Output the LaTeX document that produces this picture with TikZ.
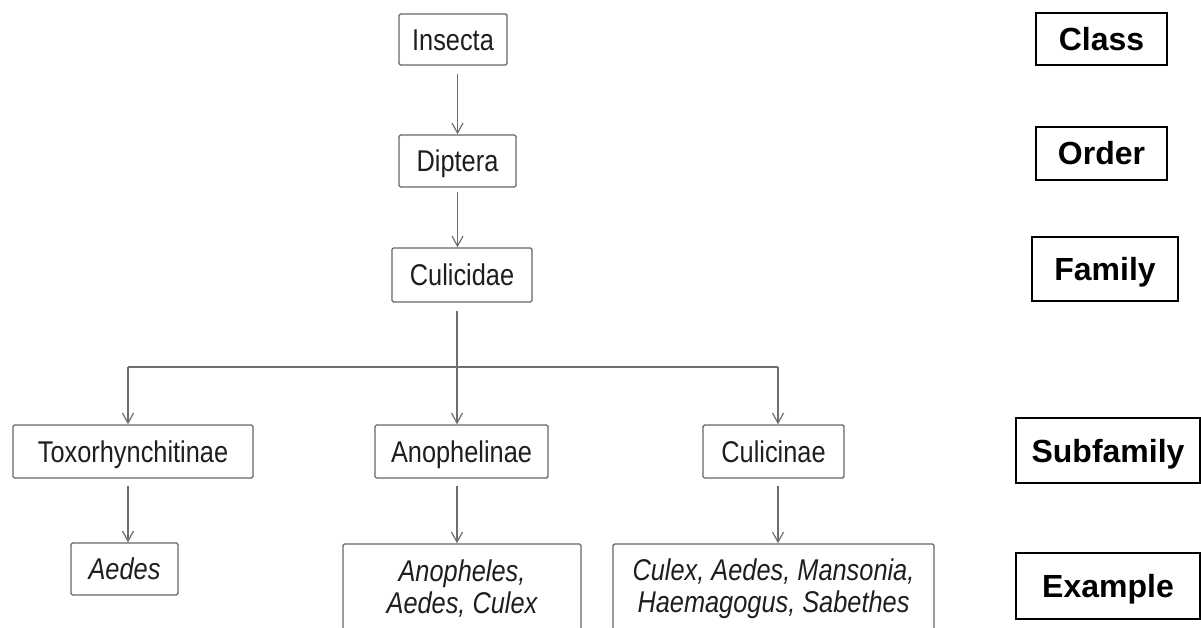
\documentclass[tikz,border=0pt]{standalone}
\usepackage{fontspec}
\setmainfont{Liberation Sans}
\newfontfamily\nf[FakeStretch=0.845]{Liberation Sans}
\usetikzlibrary{arrows.meta}
\definecolor{boxgray}{HTML}{666666}
\definecolor{arrgray}{HTML}{6E6E6E}
\definecolor{txt}{HTML}{1E1E1E}
\begin{document}
\begin{tikzpicture}[x=1pt,y=-1pt,
  taxon/.style={draw=boxgray, line width=1.4pt, rounded corners=1.5pt, inner sep=0pt,
    text=txt, font=\nf\fontsize{30}{32}\selectfont, align=center},
  single/.style={taxon, text height=25pt, text depth=3.5pt},
  exbox/.style={taxon, font=\nf\itshape\fontsize{30}{32}\selectfont},
  rank/.style={draw=black, line width=1.6pt, inner sep=0pt, text=black,
    text height=26pt, text depth=3pt,
    font=\bfseries\fontsize{32}{38}\selectfont},
  arr/.style={draw=arrgray, line width=1.2pt,
    -{Straight Barb[length=10pt,width=11pt,line width=1.2pt]}},
  bus/.style={draw=arrgray, line width=1.2pt}]
\useasboundingbox (0,0) rectangle (1201,628);
\clip (0,0) rectangle (1201,628);

% taxonomy boxes
\node[single, minimum width=108, minimum height=51] (ins) at (453,39.5) {Insecta};
\node[single, minimum width=117, minimum height=52] (dip) at (457.5,161) {Diptera};
\node[single, minimum width=140, minimum height=54] (cul) at (462,275) {Culicidae};
\node[single, minimum width=240, minimum height=53] (tox) at (133,451.5) {Toxorhynchitinae};
\node[single, minimum width=173, minimum height=53] (ano) at (461.5,451.5) {Anophelinae};
\node[single, minimum width=141, minimum height=53] (culi) at (773.5,451.5) {Culicinae};
\node[exbox, text height=25pt, text depth=3.5pt, minimum width=107, minimum height=52] (aed) at (124.5,569) {Aedes};
\node[exbox, minimum width=238, minimum height=90] (anoex) at (462,589) {Anopheles,\\Aedes, Culex};
\node[exbox, minimum width=321, minimum height=90] (culex) at (773.5,589) {Culex, Aedes, Mansonia,\\Haemagogus, Sabethes};

% rank labels
\node[rank, minimum width=131, minimum height=52] (class) at (1101.5,39) {Class};
\node[rank, minimum width=131, minimum height=53] (order) at (1101.5,153.5) {Order};
\node[rank, minimum width=146, minimum height=64] (family) at (1105,269) {Family};
\node[rank, minimum width=184, minimum height=65] (subf) at (1108,450.5) {Subfamily};
\node[rank, minimum width=184, minimum height=66] (examp) at (1108,586) {Example};

% connectors
\coordinate (hub) at (457,367);
\coordinate (bl) at (128,367);
\coordinate (br) at (778,367);
\draw[arr, shorten <=8pt] (ins.south -| dip.north) -- (dip.north);
\draw[arr, shorten <=4pt] (dip.south) -- (dip.south |- cul.north);
\draw[bus, shorten <=8pt] (cul.south -| hub) -- (hub);
\draw[bus] (bl) -- (br);
\draw[arr] (bl) -- (bl |- tox.north);
\draw[arr] (hub) -- (hub |- ano.north);
\draw[arr] (br) -- (br |- culi.north);
\draw[arr, shorten <=7pt] (tox.south -| bl) -- (bl |- aed.north);
\draw[arr, shorten <=7pt] (ano.south -| hub) -- (hub |- anoex.north);
\draw[arr, shorten <=7pt] (culi.south -| br) -- (br |- culex.north);
\end{tikzpicture}
\end{document}
